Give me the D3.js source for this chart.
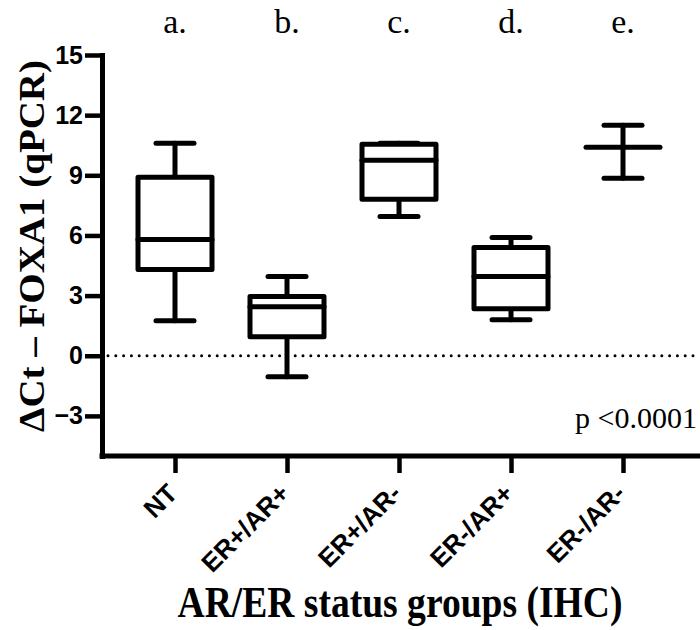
<!DOCTYPE html>
<html>
<head>
<meta charset="utf-8">
<script src="https://cdn.jsdelivr.net/npm/d3@7"></script>
<style>
  body { margin: 0; background: #fff; }
  svg { display: block; }
</style>
</head>
<body>
<svg id="chart" width="700" height="630"></svg>
<script>
'use strict';

// box plot summary per group
const groups = ["NT", "ER+/AR+", "ER+/AR-", "ER-/AR+", "ER-/AR-"];
const letters = ["a.", "b.", "c.", "d.", "e."];
const whiskerLow  = [1.75, -1.05, 6.95, 1.8, 8.85];
const q1          = [4.3, 0.95, 7.8, 2.35, 10.4];
const median      = [5.8, 2.45, 9.75, 3.95, 10.4];
const q3          = [8.9, 2.95, 10.55, 5.4, 10.4];
const whiskerHigh = [10.6, 3.95, 10.6, 5.9, 11.5];
const yTicks = [-3, 0, 3, 6, 9, 12, 15];

let svg = d3.select("#chart");
let sans = "'Liberation Sans', Arial, sans-serif",
    serif = "'Liberation Serif', 'Times New Roman', serif";

let x = d3.scalePoint().domain(groups).range([175, 623]);
let y = d3.scaleLinear().domain([-5, 15]).range([456, 55]);
let axisLeftX = 102, axisRightX = 698;
let boxHalf = 37, capHalf = 19;

let data = groups.map(function(g, i) {
    return { group: g, letter: letters[i], lo: whiskerLow[i], q1: q1[i],
             med: median[i], q3: q3[i], hi: whiskerHigh[i] };
});

// zero reference line
svg.append("line")
    .attr("x1", axisLeftX + 6).attr("x2", axisRightX)
    .attr("y1", y(0)).attr("y2", y(0))
    .attr("stroke", "#000").attr("stroke-width", 3)
    .attr("stroke-linecap", "round")
    .attr("stroke-dasharray", "0 7.8");

// y axis
let yAxis = svg.append("g")
    .attr("transform", "translate(" + axisLeftX + ",0)")
    .call(d3.axisLeft(y).tickValues(yTicks).tickSize(17).tickSizeOuter(0).tickPadding(2));
yAxis.select(".domain").attr("stroke-width", 5).attr("stroke-linecap", "square");
yAxis.selectAll(".tick line").attr("stroke-width", 4.5);
yAxis.selectAll(".tick text")
    .style("font-family", sans).style("font-weight", "bold").style("font-size", "25px")
    .attr("fill", "#000");

// x axis (ticks only, labels drawn below)
let xAxis = svg.append("g")
    .attr("transform", "translate(0," + y(-5) + ")")
    .call(d3.axisBottom(x).tickSize(17).tickSizeOuter(0).tickFormat(""));
xAxis.select(".domain").remove();
xAxis.selectAll(".tick line").attr("stroke-width", 4.5);
svg.append("line")
    .attr("x1", axisLeftX).attr("x2", axisRightX)
    .attr("y1", y(-5)).attr("y2", y(-5))
    .attr("stroke", "#000").attr("stroke-width", 5)
    .attr("stroke-linecap", "square");

svg.append("g").selectAll("text").data(groups).enter().append("text")
    .attr("transform", function(d) {
        return "translate(" + (x(d) + 4) + "," + (y(-5) + 39) + ") rotate(-45)";
    })
    .attr("text-anchor", "end")
    .style("font-family", sans).style("font-weight", "bold").style("font-size", "26px")
    .text(function(d) { return d; });

// boxes
let box = svg.append("g").attr("class", "boxes")
    .selectAll("g").data(data).enter().append("g")
    .attr("fill", "none").attr("stroke", "#000").attr("stroke-width", 5)
    .attr("stroke-linecap", "round").attr("stroke-linejoin", "round");

box.append("line")
    .attr("x1", function(d) { return x(d.group); })
    .attr("x2", function(d) { return x(d.group); })
    .attr("y1", function(d) { return y(d.lo); })
    .attr("y2", function(d) { return y(d.hi); });

box.filter(function(d) { return d.q3 > d.q1; }).append("rect")
    .attr("x", function(d) { return x(d.group) - boxHalf; })
    .attr("width", boxHalf * 2)
    .attr("y", function(d) { return y(d.q3); })
    .attr("height", function(d) { return y(d.q1) - y(d.q3); })
    .attr("fill", "#fff");

box.append("line")
    .attr("x1", function(d) { return x(d.group) - boxHalf; })
    .attr("x2", function(d) { return x(d.group) + boxHalf; })
    .attr("y1", function(d) { return y(d.med); })
    .attr("y2", function(d) { return y(d.med); });

["lo", "hi"].forEach(function(k) {
    box.append("line")
        .attr("x1", function(d) { return x(d.group) - capHalf; })
        .attr("x2", function(d) { return x(d.group) + capHalf; })
        .attr("y1", function(d) { return y(d[k]); })
        .attr("y2", function(d) { return y(d[k]); });
});

// group letters on top
svg.append("g").selectAll("text").data(data).enter().append("text")
    .attr("x", function(d) { return x(d.group); })
    .attr("y", 33)
    .attr("text-anchor", "middle")
    .style("font-family", serif).style("font-size", "34px")
    .text(function(d) { return d.letter; });

// p value
svg.append("text")
    .attr("x", 697).attr("y", 428)
    .attr("text-anchor", "end")
    .style("font-family", serif).style("font-size", "30px")
    .text("p <0.0001");

// axis titles
svg.append("text")
    .attr("transform", "translate(44,246) rotate(-90)")
    .attr("text-anchor", "middle")
    .attr("textLength", 372).attr("lengthAdjust", "spacingAndGlyphs")
    .style("font-family", serif).style("font-weight", "bold").style("font-size", "35px")
    .text("ΔCt – FOXA1 (qPCR)");

svg.append("text")
    .attr("x", 400).attr("y", 617)
    .attr("text-anchor", "middle")
    .attr("textLength", 445).attr("lengthAdjust", "spacingAndGlyphs")
    .style("font-family", serif).style("font-weight", "bold").style("font-size", "44px")
    .text("AR/ER status groups (IHC)");
</script>
</body>
</html>
